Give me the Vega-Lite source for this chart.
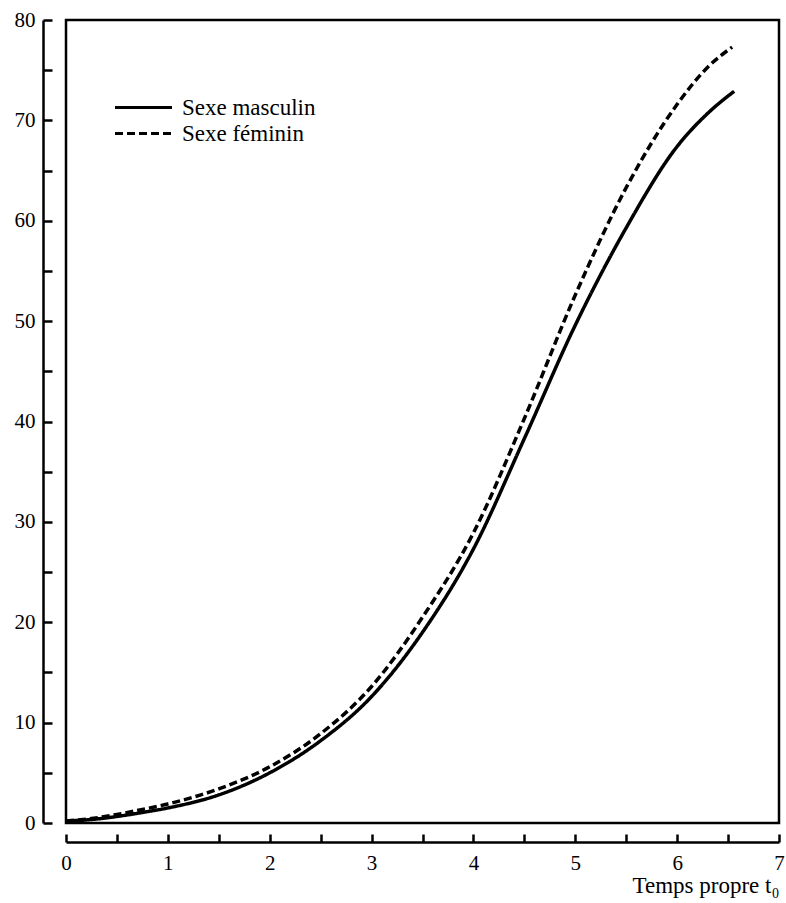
{
  "$schema": "https://vega.github.io/schema/vega-lite/v6.json",
  "width": 713,
  "height": 803,
  "autosize": "none",
  "padding": {"left": 66, "top": 20, "right": 7, "bottom": 80},
  "background": "white",
  "config": {
    "view": {"stroke": "black", "strokeWidth": 2.5},
    "font": "Liberation Serif",
    "axis": {"labelColor": "black", "domainColor": "black", "tickColor": "black", "titleColor": "black", "grid": false, "labelFont": "Liberation Serif", "titleFont": "Liberation Serif"}
  },
  "data": {
    "values": [
      {"t": 0, "v": 0.2, "sexe": "Sexe masculin"},
      {"t": 0.25, "v": 0.35, "sexe": "Sexe masculin"},
      {"t": 0.5, "v": 0.65, "sexe": "Sexe masculin"},
      {"t": 0.75, "v": 1.05, "sexe": "Sexe masculin"},
      {"t": 1.0, "v": 1.5, "sexe": "Sexe masculin"},
      {"t": 1.5, "v": 2.8, "sexe": "Sexe masculin"},
      {"t": 2.0, "v": 5.0, "sexe": "Sexe masculin"},
      {"t": 2.5, "v": 8.2, "sexe": "Sexe masculin"},
      {"t": 3.0, "v": 12.6, "sexe": "Sexe masculin"},
      {"t": 3.5, "v": 19.0, "sexe": "Sexe masculin"},
      {"t": 4.0, "v": 27.3, "sexe": "Sexe masculin"},
      {"t": 4.5, "v": 38.3, "sexe": "Sexe masculin"},
      {"t": 5.0, "v": 49.6, "sexe": "Sexe masculin"},
      {"t": 5.5, "v": 59.3, "sexe": "Sexe masculin"},
      {"t": 6.0, "v": 67.4, "sexe": "Sexe masculin"},
      {"t": 6.3, "v": 70.7, "sexe": "Sexe masculin"},
      {"t": 6.56, "v": 72.9, "sexe": "Sexe masculin"},
      {"t": 0, "v": 0.2, "sexe": "Sexe féminin"},
      {"t": 0.25, "v": 0.45, "sexe": "Sexe féminin"},
      {"t": 0.5, "v": 0.85, "sexe": "Sexe féminin"},
      {"t": 0.75, "v": 1.35, "sexe": "Sexe féminin"},
      {"t": 1.0, "v": 1.9, "sexe": "Sexe féminin"},
      {"t": 1.5, "v": 3.4, "sexe": "Sexe féminin"},
      {"t": 2.0, "v": 5.6, "sexe": "Sexe féminin"},
      {"t": 2.5, "v": 8.9, "sexe": "Sexe féminin"},
      {"t": 3.0, "v": 13.6, "sexe": "Sexe féminin"},
      {"t": 3.5, "v": 20.5, "sexe": "Sexe féminin"},
      {"t": 4.0, "v": 28.9, "sexe": "Sexe féminin"},
      {"t": 4.5, "v": 40.3, "sexe": "Sexe féminin"},
      {"t": 5.0, "v": 52.6, "sexe": "Sexe féminin"},
      {"t": 5.5, "v": 63.3, "sexe": "Sexe féminin"},
      {"t": 6.0, "v": 71.6, "sexe": "Sexe féminin"},
      {"t": 6.3, "v": 75.3, "sexe": "Sexe féminin"},
      {"t": 6.54, "v": 77.3, "sexe": "Sexe féminin"}
    ]
  },
  "mark": {"type": "line", "color": "black", "strokeWidth": 3.5, "interpolate": "monotone", "strokeCap": "butt"},
  "encoding": {
    "x": {
      "field": "t", "type": "quantitative",
      "scale": {"domain": [0, 7], "nice": false, "zero": false},
      "axis": {
        "values": [0, 0.5, 1, 1.5, 2, 2.5, 3, 3.5, 4, 4.5, 5, 5.5, 6, 6.5, 7],
        "labelExpr": "datum.value % 1 === 0 ? format(datum.value, 'd') : ''",
        "offset": 19,
        "tickSize": -8,
        "tickWidth": 2.5,
        "domainWidth": 2.5,
        "labelPadding": 18,
        "labelFont": "Liberation Serif",
        "labelFontSize": 21,
        "labelFlush": false,
        "labelOverlap": false,
        "title": "Temps propre t₀",
        "titleFont": "Liberation Serif",
        "titleFontSize": 23,
        "titleFontWeight": "normal",
        "titleAnchor": "end",
        "titleAlign": "right",
        "titleBaseline": "alphabetic",
        "titleY": 50
      }
    },
    "y": {
      "field": "v", "type": "quantitative",
      "scale": {"domain": [0, 80], "nice": false},
      "axis": {
        "values": [0, 5, 10, 15, 20, 25, 30, 35, 40, 45, 50, 55, 60, 65, 70, 75, 80],
        "labelExpr": "datum.value % 10 === 0 ? datum.label : ''",
        "offset": 23,
        "tickSize": -9,
        "tickWidth": 2.5,
        "domainWidth": 2.5,
        "labelPadding": 17,
        "labelFont": "Liberation Serif",
        "labelFontSize": 21,
        "labelFlush": false,
        "labelOverlap": false,
        "title": null
      }
    },
    "strokeDash": {
      "field": "sexe", "type": "nominal",
      "scale": {"domain": ["Sexe masculin", "Sexe féminin"], "range": [[1, 0], [8, 4]]},
      "legend": {
        "orient": "none",
        "legendX": 66,
        "legendY": 76,
        "title": null,
        "symbolType": "M-3,0L3,0",
        "symbolSize": 361,
        "symbolStrokeWidth": 3,
        "symbolStrokeColor": "black",
        "symbolFillColor": "transparent",
        "labelFontSize": 23,
        "labelFont": "Liberation Serif",
        "labelColor": "black",
        "labelOffset": 27,
        "rowPadding": 2,
        "padding": 0
      }
    }
  }
}
